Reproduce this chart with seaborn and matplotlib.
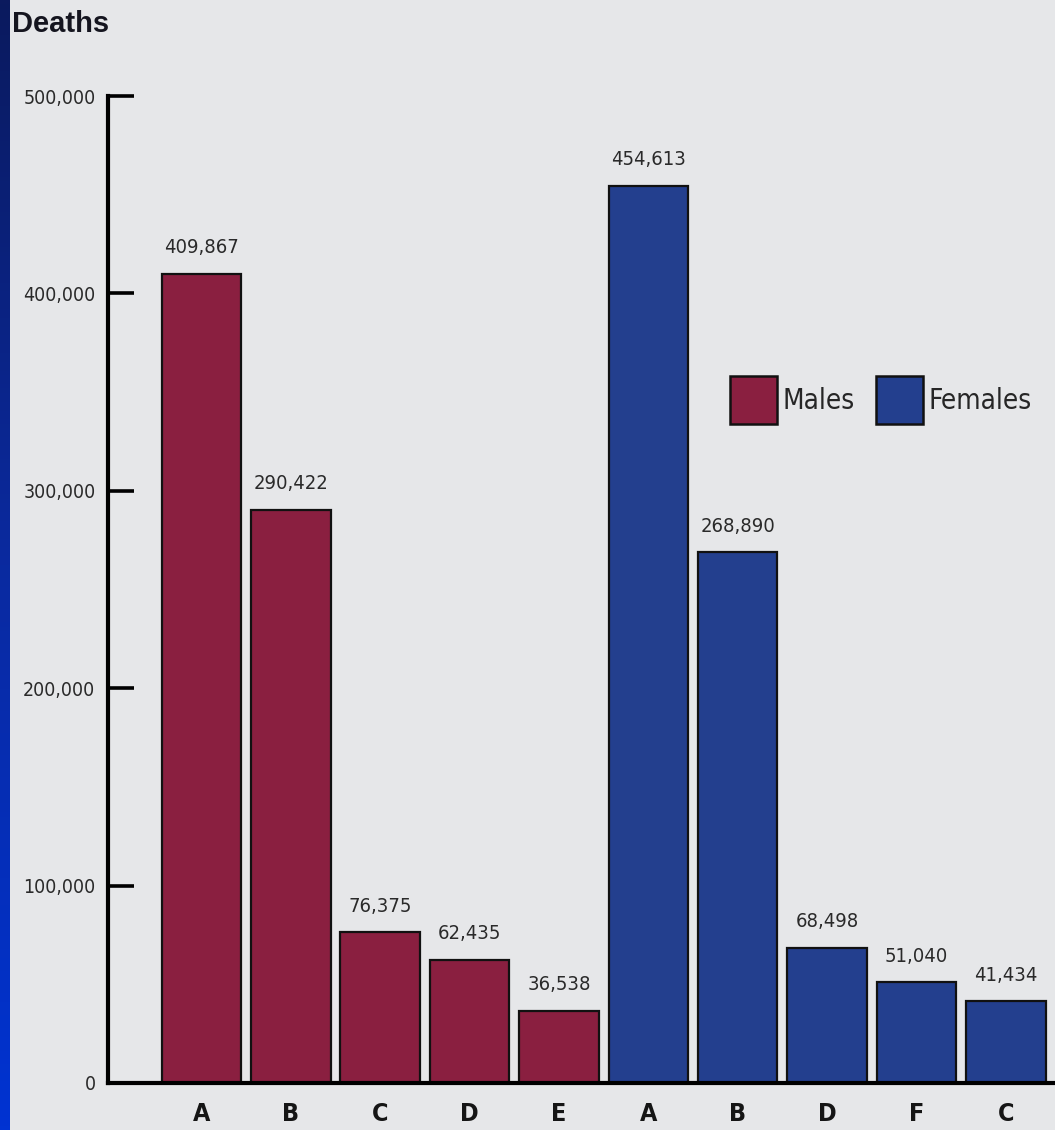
import numpy as np
import pandas as pd
import matplotlib
matplotlib.use("Agg")
import matplotlib.pyplot as plt
from matplotlib import font_manager
from matplotlib.patches import Patch
import seaborn as sns

# Leading causes of death by sex
male_causes = ["A", "B", "C", "D", "E"]
male_deaths = [409867, 290422, 76375, 62435, 36538]
female_causes = ["A", "B", "D", "F", "C"]
female_deaths = [454613, 268890, 68498, 51040, 41434]
y_ticks = [0, 100000, 200000, 300000, 400000, 500000]

MALE_COLOR = "#8a1f40"
FEMALE_COLOR = "#233f8e"
BG = "#e6e7e9"

sns.set_theme(style="white")


def narrow_font(bold=False):
    """Pick a condensed / narrow face if one is installed."""
    for f in font_manager.fontManager.ttflist:
        name = f.fname.lower()
        is_bold = "bold" in name
        if ("narrow" in name or "condensed" in name) and is_bold == bold \
                and "oblique" not in name and "italic" not in name:
            return font_manager.FontProperties(fname=f.fname)
    return font_manager.FontProperties(family="DejaVu Sans",
                                       weight="bold" if bold else "normal")


NARROW = narrow_font(False)
NARROW_BOLD = narrow_font(True)
plt.rcParams["font.family"] = ["DejaVu Sans"]

df = pd.DataFrame({
    "slot": [f"M-{c}" for c in male_causes] + [f"F-{c}" for c in female_causes],
    "cause": male_causes + female_causes,
    "deaths": male_deaths + female_deaths,
    "sex": ["Males"] * len(male_causes) + ["Females"] * len(female_causes),
})

W, H = 1055, 1130
fig = plt.figure(figsize=(W / 100, H / 100), dpi=100, facecolor=BG)

# gradient strip on the left edge
strip = fig.add_axes([0, 0, 10 / W, 1])
grad = np.linspace(0, 1, 256).reshape(-1, 1)
cmap = matplotlib.colors.LinearSegmentedColormap.from_list(
    "strip", ["#0033d2", "#0a2aa0", "#0b1a5e"])
strip.imshow(grad, aspect="auto", cmap=cmap, origin="lower", extent=[0, 1, 0, 1])
strip.set_axis_off()

ax_left = 108 / W
ax_bottom = (H - 1083) / H
ax_top = (H - 96) / H
ax = fig.add_axes([ax_left, ax_bottom, 1 - ax_left, ax_top - ax_bottom])
ax.set_facecolor(BG)

sns.barplot(data=df, x="slot", y="deaths", hue="sex",
            palette={"Males": MALE_COLOR, "Females": FEMALE_COLOR},
            saturation=1, dodge=False, width=0.89, edgecolor="#111111",
            linewidth=1.6, legend=False, ax=ax)

for cont in ax.containers:
    texts = ax.bar_label(cont, labels=[f"{v:,.0f}" for v in cont.datavalues],
                         padding=12, color="#2a2a2a")
    for t in texts:
        t.set_fontproperties(NARROW)
        t.set_fontsize(14.5)

ax.set_xlim(-1.045, 9.55)
ax.set_ylim(0, 500000)
ax.set_yticks(y_ticks)
ax.set_yticklabels([f"{v:,}" for v in y_ticks], color="#2a2a2a")
for t in ax.get_yticklabels():
    t.set_fontproperties(NARROW)
    t.set_fontsize(14)
ax.set_xticks(range(len(df)))
ax.set_xticklabels(df["cause"], color="#151515")
for t in ax.get_xticklabels():
    t.set_fontproperties(NARROW_BOLD)
    t.set_fontsize(18)
ax.set_xlabel("")
ax.set_ylabel("")

for s in ["top", "right"]:
    ax.spines[s].set_visible(False)
for s in ["left", "bottom"]:
    ax.spines[s].set_color("black")
    ax.spines[s].set_linewidth(3)
ax.tick_params(axis="y", left=True, direction="in", length=19, width=2.6,
               color="black", pad=9)
ax.tick_params(axis="x", bottom=False, length=0, pad=14)

fig.text(12 / W, 1 - 24 / H, "Deaths", fontsize=21, fontweight="bold",
         family=["Liberation Sans", "DejaVu Sans"], color="#15151f", va="center", ha="left")

handles = [Patch(facecolor=MALE_COLOR, edgecolor="#111111", linewidth=1.8, label="Males"),
           Patch(facecolor=FEMALE_COLOR, edgecolor="#111111", linewidth=1.8, label="Females")]
leg_font = NARROW.copy()
leg_font.set_size(20)
fig.legend(handles=handles, loc="center left", bbox_to_anchor=(730 / W, 1 - 400 / H),
           ncol=2, frameon=False, prop=leg_font, handlelength=1.7, handleheight=2.3,
           handletextpad=0.2, columnspacing=0.75, borderpad=0, borderaxespad=0)

fig.savefig("out.png", dpi=100, facecolor=BG)
